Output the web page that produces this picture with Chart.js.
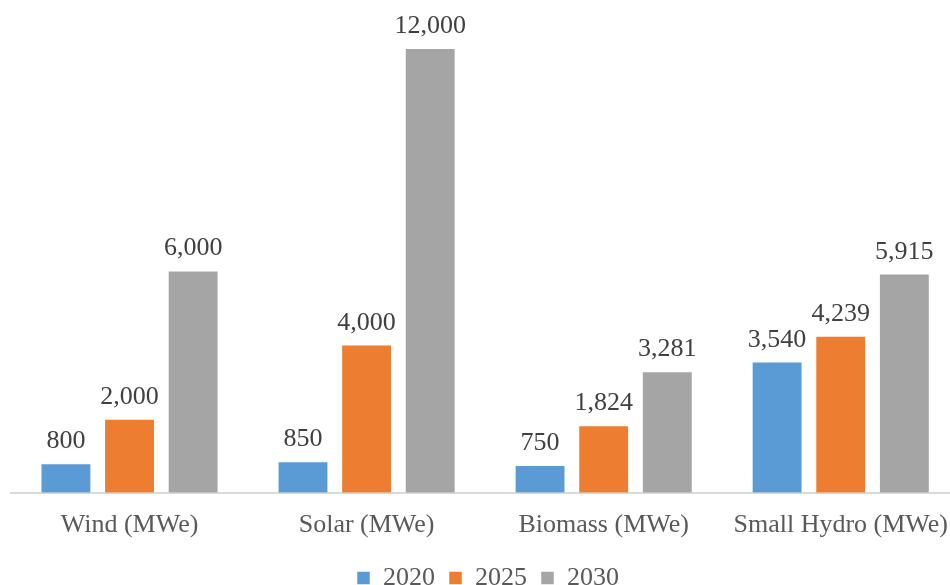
<!DOCTYPE html>
<html>
<head>
<meta charset="utf-8">
<script src="https://cdn.jsdelivr.net/npm/chart.js@4.4.1/dist/chart.umd.min.js"></script>
<style>
  html, body { margin: 0; padding: 0; background: #ffffff; overflow: hidden; }
  #wrap { width: 965px; height: 585px; position: relative; }
</style>
</head>
<body>
<div id="wrap"><canvas id="chartCanvas"></canvas></div>
<script>
const categories = ["Wind (MWe)", "Solar (MWe)", "Biomass (MWe)", "Small Hydro (MWe)"];
const seriesNames = ["2020", "2025", "2030"];
const values2020 = [800, 850, 750, 3540];
const values2025 = [2000, 4000, 1824, 4239];
const values2030 = [6000, 12000, 3281, 5915];
const seriesColors = ["#5b9bd5", "#ed7d31", "#a5a5a5"];

const serif = "'Liberation Serif', 'DejaVu Serif', serif";

// value labels above each bar
const barLabels = {
    id: "barLabels",
    afterDatasetsDraw(chart){
        const ctx = chart.ctx;
        ctx.save();
        ctx.font = "26px " + serif;
        ctx.fillStyle = "#404040";
        ctx.textAlign = "center";
        ctx.textBaseline = "alphabetic";
        chart.data.datasets.forEach((ds, i) => {
            chart.getDatasetMeta(i).data.forEach((bar, j) => {
                ctx.fillText(ds.data[j].toLocaleString("en-US"), bar.x, bar.y - 15);
            });
        });
        ctx.restore();
    }
};

const data = {
    labels: categories,
    datasets: [values2020, values2025, values2030].map((vals, i) => ({
        label: seriesNames[i],
        data: vals,
        backgroundColor: seriesColors[i],
        borderColor: "rgba(255,255,255,0.5)",
        borderWidth: 1,
        categoryPercentage: 0.805,
        barPercentage: 0.8
    }))
};

const config = {
    type: "bar",
    data: data,
    options: {
        responsive: true,
        maintainAspectRatio: false,
        animation: false,
        layout: { padding: { left: 11, right: 0, top: 11, bottom: -16 } },
        plugins: {
            tooltip: { enabled: false },
            legend: {
                position: "bottom",
                labels: {
                    boxWidth: 13,
                    boxHeight: 13,
                    padding: 14,
                    color: "#595959",
                    font: { family: serif, size: 26 }
                }
            }
        },
        scales: {
            x: {
                grid: { display: false, drawTicks: false },
                border: { display: true, color: "#d9d9d9", width: 2 },
                ticks: { color: "#595959", padding: 17, font: { family: serif, size: 26 } },
                afterFit(scale){ scale.height -= 7; }
            },
            y: {
                display: false,
                min: 0,
                max: 13000
            }
        }
    },
    plugins: [barLabels]
};

let myChart = new Chart(document.getElementById("chartCanvas"), config);
</script>
</body>
</html>
